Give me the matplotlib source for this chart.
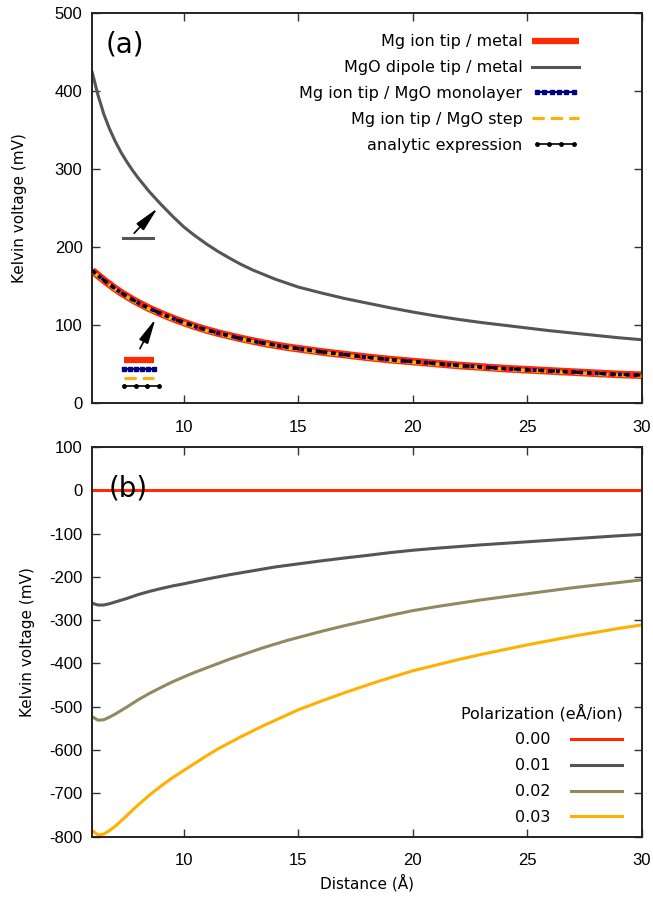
import matplotlib
matplotlib.use("Agg")
import matplotlib.pyplot as plt
from matplotlib.lines import Line2D
from matplotlib.legend_handler import HandlerLine2D

# ---------------- data ----------------
dist = [6.0, 6.25, 6.5, 6.75, 7.0, 7.25, 7.5, 7.75, 8.0, 8.5, 9.0, 9.5, 10.0,
        10.5, 11.0, 11.5, 12.0, 12.5, 13.0, 13.5, 14.0, 14.5, 15.0, 16.0, 17.0,
        18.0, 19.0, 20.0, 21.0, 22.0, 23.0, 24.0, 25.0, 26.0, 27.0, 28.0, 29.0,
        30.0]

# panel (a)
mgo_dipole_metal = [424, 395, 371, 352, 336, 322, 310, 299, 289, 271, 255, 240,
                    226, 214.5, 204, 194.5, 186, 178, 171, 165, 159, 154, 149,
                    141.5, 134.5, 128.5, 122.5, 117, 112, 107.5, 103.5, 100,
                    96.5, 93, 90, 87, 84, 81.5]
mg_ion_metal = [170, 164, 158, 152.5, 147, 142, 137.5, 133, 129, 121.5, 115,
                109, 103.5, 98.5, 94, 90, 86.5, 83, 80, 77, 74.5, 72, 70, 66,
                62.5, 59, 56, 53.5, 51, 48.5, 46.5, 44.5, 43, 41.5, 40, 38.5,
                37, 36]
mg_ion_monolayer = [170, 164, 158, 152.5, 147, 142, 137.5, 133, 129, 121.5, 115,
                    109, 103.5, 98.5, 94, 90, 86.5, 83, 80, 77, 74.5, 72, 70, 66,
                    62.5, 59, 56, 53.5, 51, 48.5, 46.5, 44.5, 43, 41.5, 40, 38.5,
                    37, 36]
mg_ion_step = [169, 163, 157, 151.5, 146, 141, 136.5, 132, 128, 120.5, 114,
               108, 102.5, 97.5, 93, 89, 85.5, 82, 79, 76, 73.5, 71, 69, 65,
               61.5, 58, 55, 52.5, 50, 47.5, 45.5, 43.5, 42, 40.5, 39, 37.5,
               36, 35]
analytic = [170, 164, 158, 152.5, 147, 142, 137.5, 133, 129, 121.5, 115,
            109, 103.5, 98.5, 94, 90, 86.5, 83, 80, 77, 74.5, 72, 70, 66,
            62.5, 59, 56, 53.5, 51, 48.5, 46.5, 44.5, 43, 41.5, 40, 38.5,
            37, 36]

# panel (b)
pol_labels = ["0.00", "0.01", "0.02", "0.03"]
pol_000 = [0] * 38
pol_001 = [-261, -265, -265, -262, -258, -254, -250, -245.5, -241, -233.5, -227,
           -221, -216, -210.5, -205, -200, -195, -190.5, -186, -181.5, -177,
           -173.5, -170, -163, -156.5, -150.5, -144, -138.5, -134, -130, -126,
           -122.5, -119, -115.5, -112, -108.5, -105, -102]
pol_002 = [-523, -531, -530, -524, -517, -509, -501, -492.5, -484, -469, -455.5,
           -442.5, -431, -420, -410, -400, -390, -381, -372, -363, -355, -347,
           -340, -326, -313, -301, -289, -278, -269, -261, -253, -246, -239,
           -232, -225, -219, -213, -207]
pol_003 = [-786, -796, -794, -786, -776, -764, -752, -739, -727, -704, -683,
           -664, -647, -630, -613, -597, -583, -569, -556, -543, -531, -519,
           -507, -487, -468, -450, -433, -417, -404, -391, -379, -368, -357,
           -347, -337, -328, -319, -311]

x_ticks = [10, 15, 20, 25, 30]
ya_ticks = [0, 100, 200, 300, 400, 500]
yb_ticks = [-800, -700, -600, -500, -400, -300, -200, -100, 0, 100]

# ---------------- style ----------------
RED = "#ff2a00"
GRAY = "#555555"
OLIVE = "#8f8a62"
ORANGE = "#ffb000"
NAVY = "#00007f"
TICKFONT = "Liberation Sans"
plt.rcParams["font.family"] = ["DejaVu Sans"]
plt.rcParams["axes.unicode_minus"] = False

fig = plt.figure(figsize=(6.53, 9.01), dpi=100)
axa = fig.add_axes([0.1413, 0.5524, 0.8414, 0.4329])
axb = fig.add_axes([0.1413, 0.0714, 0.8414, 0.4325])


def style_axis(ax, yticks):
    ax.set_xlim(6, 30)
    ax.set_xticks(x_ticks)
    ax.set_yticks(yticks)
    ax.set_ylim(yticks[0], yticks[-1])
    ax.tick_params(direction="in", length=6, width=1.0, top=True, right=True,
                   labelsize=12, color="#333333")
    ax.tick_params(axis="x", pad=12)
    ax.tick_params(axis="y", pad=7)
    for lab in ax.get_xticklabels() + ax.get_yticklabels():
        lab.set_fontfamily(TICKFONT)
    for s in ax.spines.values():
        s.set_linewidth(1.4)
        s.set_color("#222222")


ARROW = dict(arrowstyle="-|>,head_length=1.0,head_width=0.2", color="black",
             lw=1.2, mutation_scale=15, shrinkA=0, shrinkB=0)

# ---------------- panel (a) ----------------
style_axis(axa, ya_ticks)
axa.plot(dist, mg_ion_metal, color=RED, lw=5.5, solid_capstyle="butt", zorder=2)
axa.plot(dist, mgo_dipole_metal, color=GRAY, lw=2.2, zorder=2)
axa.plot(dist, mg_ion_step, color=ORANGE, lw=2.5, ls=(0, (4, 2)), zorder=3)
axa.plot(dist, mg_ion_monolayer, color=NAVY, lw=2.8, ls=(0, (1, 1)), zorder=4)
axa.plot(dist, analytic, color="black", lw=2.2, ls=(0, (1.5, 2.5)), zorder=5)

h_red = Line2D([], [], color=RED, lw=4.5, solid_capstyle="butt")
h_gray = Line2D([], [], color=GRAY, lw=2.2)
h_navy = Line2D([], [], color=NAVY, lw=1.5, marker="s", markersize=2.5)
h_orange = Line2D([], [], color=ORANGE, lw=2.2, ls=(0, (4, 2)))
h_black = Line2D([], [], color="black", lw=1.2, marker="o", markersize=2.5)
axa.legend([h_red, h_gray, h_navy, h_orange, h_black],
           ["Mg ion tip / metal", "MgO dipole tip / metal",
            "Mg ion tip / MgO monolayer", "Mg ion tip / MgO step",
            "analytic expression"],
           loc="upper right", bbox_to_anchor=(0.885, 0.946),
           frameon=False, markerfirst=False, fontsize=11.5,
           handlelength=2.9, handletextpad=0.6, labelspacing=0.68,
           borderpad=0, borderaxespad=0,
           handler_map={h_navy: HandlerLine2D(numpoints=6),
                        h_black: HandlerLine2D(numpoints=4)})

axa.text(0.025, 0.955, "(a)", transform=axa.transAxes, fontsize=20,
         ha="left", va="top")

# inline keys and arrows
axa.plot([7.35, 8.66], [212.5, 212.5], color=GRAY, lw=2.2)
axa.annotate("", xy=(8.85, 250), xytext=(7.83, 218), arrowprops=ARROW)
axa.annotate("", xy=(8.76, 108), xytext=(8.08, 70), arrowprops=ARROW)
axa.plot([7.39, 8.69], [55, 55], color=RED, lw=4.5, solid_capstyle="butt")
axa.plot([7.39, 7.65, 7.91, 8.17, 8.43, 8.69], [43.5] * 6, color=NAVY, lw=1.5,
         marker="s", markersize=2.5)
axa.plot([7.39, 8.69], [32, 32], color=ORANGE, lw=2.2, ls=(0, (4, 2)))
axa.plot([7.39, 7.89, 8.39, 8.91], [21.8] * 4, color="black", lw=1.2,
         marker="o", markersize=2.5)

axa.set_ylabel("Kelvin voltage (mV)", fontsize=11)
axa.yaxis.set_label_coords(-0.119, 0.5)

# ---------------- panel (b) ----------------
style_axis(axb, yb_ticks)
pol_colors = [RED, GRAY, OLIVE, ORANGE]
for vals, c, lab in zip([pol_000, pol_001, pol_002, pol_003], pol_colors, pol_labels):
    axb.plot(dist, vals, color=c, lw=2.2, label=lab)

axb.legend(loc="lower right", bbox_to_anchor=(0.965, 0.03),
           frameon=False, markerfirst=False, fontsize=11.5,
           title="Polarization (eÅ/ion)", title_fontsize=11.5,
           alignment="right", handlelength=3.2, handletextpad=1.3,
           labelspacing=0.68, borderpad=0, borderaxespad=0)
axb.text(0.03, 0.93, "(b)", transform=axb.transAxes, fontsize=20,
         ha="left", va="top")
axb.set_ylabel("Kelvin voltage (mV)", fontsize=11)
axb.yaxis.set_label_coords(-0.105, 0.5)
axb.set_xlabel("Distance (Å)", fontsize=11)

fig.savefig("out.png", dpi=100)
